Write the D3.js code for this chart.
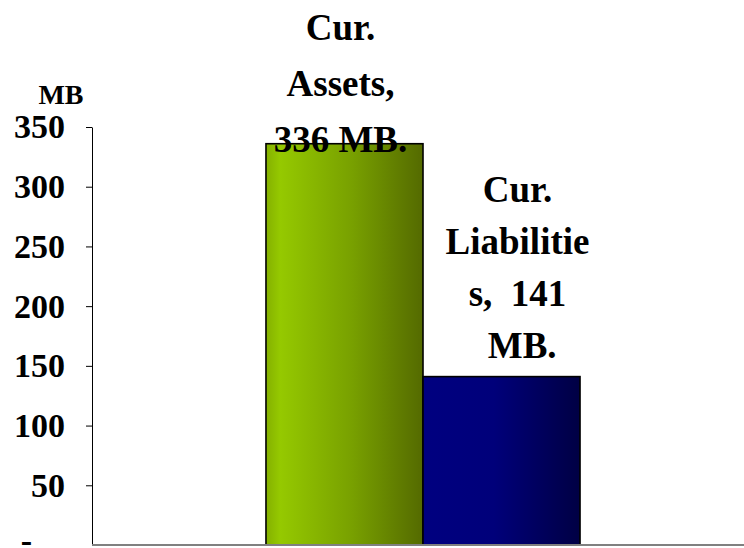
<!DOCTYPE html>
<html>
<head>
<meta charset="utf-8">
<script src="https://cdn.jsdelivr.net/npm/d3@7"></script>
<style>
  html, body { margin: 0; padding: 0; background: #fff; }
  svg { display: block; }
  text { font-family: "Liberation Serif", "Times New Roman", serif; font-weight: bold; fill: #000; }
</style>
</head>
<body>
<svg id="chart" width="744" height="548"></svg>
<script>
// Current assets vs. current liabilities (MB)
const groups = ["Cur."];
const seriesNames = ["Cur. Assets", "Cur. Liabilities"];
const seriesValues = [336, 141];
const labelLines = [
  ["Cur.", "Assets,", "336 MB."],
  ["Cur.", "Liabilitie", "s,  141", " MB."]
];
const yTicks = [0, 50, 100, 150, 200, 250, 300, 350];
const yTickLabels = ["-", "50", "100", "150", "200", "250", "300", "350"];
const yUnit = "MB";

const svg = d3.select("#chart");
const W = 744, H = 548;
const plot = { left: 92, right: 754, top: 127, bottom: 545 };

const y = d3.scaleLinear().domain([0, 350]).range([plot.bottom, plot.top]);
const x0 = d3.scaleBand().domain(groups).range([plot.left, plot.right])
  .paddingInner(0).paddingOuter(0.554);
const x1 = d3.scaleBand().domain(seriesNames).range([0, x0.bandwidth()]).padding(0);

// Gradients for bar fills
const defs = svg.append("defs");
const gGreen = defs.append("linearGradient").attr("id", "gradGreen")
  .attr("x1", "0%").attr("x2", "100%").attr("y1", "0%").attr("y2", "0%");
[["0%", "#84b000"], ["9%", "#95c900"], ["55%", "#78a000"], ["100%", "#546a00"]]
  .forEach(([o, c]) => gGreen.append("stop").attr("offset", o).attr("stop-color", c));
const gBlue = defs.append("linearGradient").attr("id", "gradBlue")
  .attr("x1", "0%").attr("x2", "100%").attr("y1", "0%").attr("y2", "0%");
[["0%", "#000080"], ["45%", "#00007a"], ["100%", "#000044"]]
  .forEach(([o, c]) => gBlue.append("stop").attr("offset", o).attr("stop-color", c));
const fills = ["url(#gradGreen)", "url(#gradBlue)"];

// Y axis
const yAxis = d3.axisLeft(y)
  .tickValues(yTicks)
  .tickFormat((d, i) => yTickLabels[i])
  .tickSizeInner(6).tickSizeOuter(0).tickPadding(21);
const gy = svg.append("g").attr("transform", `translate(${plot.left},0)`).call(yAxis);
gy.select(".domain").attr("stroke", "#000").attr("stroke-width", 1);
gy.selectAll(".tick line").attr("stroke", "#000");
gy.selectAll(".tick text")
  .attr("font-family", "Liberation Serif, serif")
  .attr("font-weight", "bold")
  .attr("font-size", 34)
  .attr("fill", "#000");
gy.selectAll(".tick").filter(d => d === 0).select("line").remove();
gy.selectAll(".tick").filter(d => d === 0).select("text").attr("x", -60).attr("dy", "0.2em");

// Unit label
svg.append("text")
  .attr("x", 61).attr("y", 104)
  .attr("text-anchor", "middle")
  .attr("font-size", 28)
  .text(yUnit);

// Bars
const bars = svg.append("g").attr("transform", `translate(${x0(groups[0])},0)`);
bars.selectAll("rect").data(seriesNames).join("rect")
  .attr("x", d => x1(d))
  .attr("y", (d, i) => y(seriesValues[i]))
  .attr("width", x1.bandwidth())
  .attr("height", (d, i) => y(0) - y(seriesValues[i]))
  .attr("fill", (d, i) => fills[i])
  .attr("stroke", "#000")
  .attr("stroke-width", 1.6);

// Category axis line
svg.append("line")
  .attr("x1", plot.left).attr("x2", W)
  .attr("y1", plot.bottom).attr("y2", plot.bottom)
  .attr("stroke", "#808080").attr("stroke-width", 2);

// Data labels
const labelOffsets = [-4, 16];
const lineGap = [56, 52];
const firstBaseline = [40, 202];
seriesNames.forEach((s, i) => {
  const cx = x0(groups[0]) + x1(s) + x1.bandwidth() / 2 + labelOffsets[i];
  const t = svg.append("text")
    .attr("text-anchor", "middle")
    .attr("font-size", 37)
    .style("white-space", "pre");
  labelLines[i].forEach((ln, j) => {
    t.append("tspan").attr("x", cx).attr("y", firstBaseline[i] + j * lineGap[i]).text(ln);
  });
});
</script>
</body>
</html>
